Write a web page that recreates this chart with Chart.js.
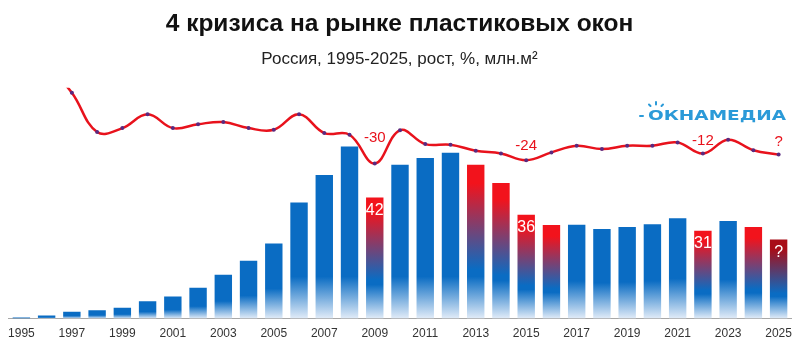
<!DOCTYPE html>
<html><head><meta charset="utf-8">
<script src="https://cdn.jsdelivr.net/npm/chart.js@4/dist/chart.umd.min.js"></script>
<style>html,body{margin:0;padding:0;background:#fff}#wrap{width:800px;height:347px;position:relative}</style>
</head><body><div id="wrap"><canvas id="c" width="800" height="347"></canvas></div>
<script>
// ---- data ----
const years = ['1995','1996','1997','1998','1999','2000','2001','2002','2003','2004','2005','2006','2007','2008','2009','2010','2011','2012','2013','2014','2015','2016','2017','2018','2019','2020','2021','2022','2023','2024','2025'];
// market volume, mln m2
const volume = [0.3,0.8,1.7,2.1,2.7,4.3,5.5,7.7,10.9,14.4,18.7,28.9,35.8,42.9,30.2,38.3,40.0,41.3,38.3,33.8,25.9,23.3,23.4,22.3,22.8,23.5,25.0,21.9,24.3,22.8,19.7];
// growth, % (estimated from line)
const growth = [null,150,98,27,34,59,34,41,45,34,31,59,25,22,-30,30,5,4,-7,-12,-24,-10,2,-4,2,2,8,-12,13,-6,-14];
const crisisYears = ['2009','2013','2014','2015','2016','2022','2024','2025'];
const forecastYears = ['2025'];
const growthNotes = [{year:'2009',text:'-30'},{year:'2015',text:'-24'},{year:'2022',text:'-12'},{year:'2025',text:'?'}];
const dropNotes = [{year:'2009',text:'42'},{year:'2015',text:'36'},{year:'2022',text:'31'},{year:'2025',text:'?'}];
const titleText = '4 кризиса на рынке пластиковых окон';
const subtitleText = 'Россия, 1995-2025, рост, %, млн.м²';
const logoText = 'ОКНАМЕДИА';

// ---- style ----
const FONT = "'Liberation Sans', Arial, sans-serif";
const BLUE = '#0a6cc3', RED = '#f2131c', DARKRED = '#a80d17', LIGHT = '#e2ecf8', LINE = '#e8121c', DOT = '#5a2a80', LOGO = '#2b9ad8';

function barFill(ctx){
  const chart = ctx.chart;
  if (!chart.chartArea || ctx.type !== 'data') return BLUE;
  const i = ctx.dataIndex, y = chart.scales.y;
  const top = y.getPixelForValue(volume[i]), base = y.getPixelForValue(0);
  const h = base - top;
  if (h < 2) return BLUE;
  const g = chart.ctx.createLinearGradient(0, top, 0, base);
  const fade = Math.max(0.6, 1 - 42 / h);
  const yr = years[i];
  if (crisisYears.includes(yr)) {
    const r = forecastYears.includes(yr) ? DARKRED : RED;
    g.addColorStop(0, r); g.addColorStop(0.12, r); g.addColorStop(0.68, BLUE);
    g.addColorStop(Math.max(0.72, fade), BLUE);
  } else {
    g.addColorStop(0, BLUE); g.addColorStop(fade, BLUE);
  }
  g.addColorStop(1, LIGHT);
  return g;
}

const notesPlugin = {
  id: 'notes',
  afterDatasetsDraw(chart, args, opts){
    const c = chart.ctx;
    const barMeta = chart.getDatasetMeta(0), lineMeta = chart.getDatasetMeta(1);
    c.save();
    c.textAlign = 'center'; c.textBaseline = 'middle';
    c.font = '15px ' + FONT; c.fillStyle = LINE;
    growthNotes.forEach(n => {
      const i = years.indexOf(n.year), p = lineMeta.data[i];
      const off = (opts.lineOffsets && opts.lineOffsets[n.year]) || 13;
      c.fillText(n.text, p.x, p.y - off);
    });
    c.font = '16px ' + FONT; c.fillStyle = '#ffffff';
    dropNotes.forEach(n => {
      const i = years.indexOf(n.year), b = barMeta.data[i];
      c.fillText(n.text, b.x, b.y + opts.barOffset);
    });
    c.restore();
  },
  afterDraw(chart){
    const c = chart.ctx;
    c.save();
    c.fillStyle = LOGO; c.strokeStyle = LOGO; c.lineCap = 'round';
    c.font = "bold 14px 'DejaVu Sans', " + FONT;
    c.textBaseline = 'middle'; c.textAlign = 'left';
    const w = c.measureText(logoText).width;
    const x0 = 648, target = 138;
    c.translate(x0, 116); c.scale(target / w, 1);
    c.fillText(logoText, 0, 0);
    c.restore();
    c.save();
    c.strokeStyle = LOGO; c.lineWidth = 2; c.lineCap = 'round';
    c.beginPath();
    c.moveTo(640,116); c.lineTo(643,116);
    c.moveTo(656,102); c.lineTo(656,104.5);
    c.moveTo(649,104.5); c.lineTo(650.5,106);
    c.moveTo(663,104.5); c.lineTo(661.5,106);
    c.stroke();
    c.restore();
  }
};

new Chart(document.getElementById('c'), {
  data: {
    labels: years,
    datasets: [
      { type:'bar', data: volume, yAxisID:'y', order:2, backgroundColor: barFill,
        barPercentage: 1, categoryPercentage: 0.69, borderWidth: 0 },
      { type:'line', data: growth, yAxisID:'y1', order:1, borderColor: LINE, borderWidth: 2.5,
        tension: 0.4, pointRadius: 2, pointBackgroundColor: DOT, pointBorderColor: DOT, pointBorderWidth: 0,
        spanGaps: false }
    ]
  },
  options: {
    responsive: false, animation: false, devicePixelRatio: 1,
    layout: { padding: { left: 5, right: 6, bottom: -2, top: 0 } },
    plugins: {
      legend: { display: false }, tooltip: { enabled: false },
      title: { display: true, text: titleText, color: '#111', font: { family: FONT, size: 24.5, weight: 'bold' }, padding: { top: 10, bottom: 0 } },
      subtitle: { display: true, text: subtitleText, color: '#222', font: { family: FONT, size: 17 }, padding: { top: 10, bottom: 18 } },
      notes: { barOffset: 13, lineOffsets: { '2009': 26, '2015': 14, '2022': 13, '2025': 13 } }
    },
    scales: {
      x: { grid: { display: false, drawTicks: false }, border: { display: true, color: '#a8a8a8', width: 1 },
           ticks: { autoSkip: false, maxRotation: 0, padding: 8, color: '#333', font: { family: FONT, size: 12 },
                    callback: (v, i) => (i % 2 === 0 ? years[i] : '') } },
      y: { display: false, min: 0, max: 57.5 },
      y1: { display: false, min: -311, max: 107 }
    }
  },
  plugins: [notesPlugin]
});
</script></body></html>
